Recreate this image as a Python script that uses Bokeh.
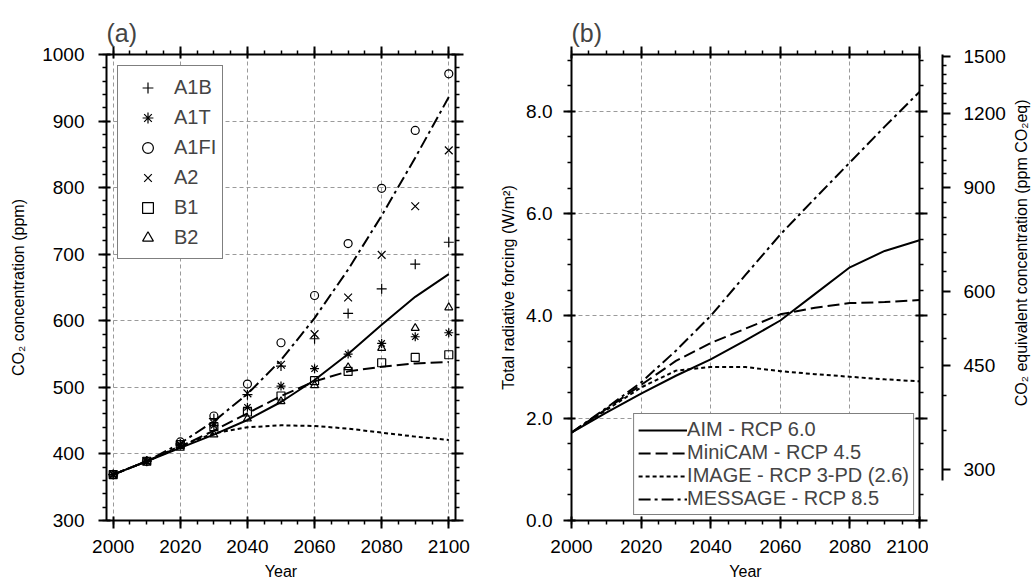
import math
from bokeh.plotting import figure
from bokeh.layouts import row
from bokeh.core.properties import value
from bokeh.models import (Range1d, LinearAxis, SingleIntervalTicker, FixedTicker,
                          Legend, LegendItem, CustomJSTickFormatter,
                          PrintfTickFormatter, BasicTickFormatter)
from bokeh.embed import file_html
from bokeh.resources import INLINE

FONT = "Liberation Sans"

years = [2000, 2010, 2020, 2030, 2040, 2050, 2060, 2070, 2080, 2090, 2100]

# ---- panel (a): CO2 concentration (ppm) ----
rcp60_co2 = [369, 389, 409, 429, 451, 478, 511, 550, 594, 636, 670]
rcp45_co2 = [369, 389, 411, 435, 461, 487, 509, 524, 531, 536, 538]
rcp26_co2 = [369, 389, 412, 431, 440, 443, 442, 438, 432, 426, 421]
rcp85_co2 = [369, 389, 416, 449, 490, 541, 604, 677, 758, 845, 936]

sres_names = ["A1B", "A1T", "A1FI", "A2", "B1", "B2"]
sres_markers = ["cross", "asterisk", "circle", "x", "square", "triangle"]
sres_sizes = [10, 9, 8, 11, 8, 8]
a1b = [369, 389, 415, 453, 489, 532, 573, 611, 648, 685, 718]
a1t = [369, 389, 413, 443, 470, 502, 528, 550, 566, 576, 582]
a1fi = [369, 389, 418, 457, 505, 567, 638, 716, 799, 886, 971]
a2 = [369, 389, 414, 446, 491, 534, 580, 635, 699, 772, 856]
b1 = [369, 389, 414, 441, 463, 487, 510, 524, 537, 545, 549]
b2 = [369, 389, 409, 429, 453, 479, 503, 530, 559, 589, 620]
sres_values = [a1b, a1t, a1fi, a2, b1, b2]

# ---- panel (b): total radiative forcing (W/m2) ----
rcp_names = ["AIM - RCP 6.0", "MiniCAM - RCP 4.5", "IMAGE - RCP 3-PD (2.6)", "MESSAGE - RCP 8.5"]
aim_rf = [1.72, 2.11, 2.48, 2.83, 3.15, 3.52, 3.91, 4.43, 4.95, 5.27, 5.48]
minicam_rf = [1.72, 2.18, 2.65, 3.12, 3.47, 3.75, 4.03, 4.16, 4.25, 4.27, 4.31]
image_rf = [1.72, 2.16, 2.60, 2.93, 3.00, 3.00, 2.92, 2.86, 2.81, 2.76, 2.72]
message_rf = [1.72, 2.20, 2.70, 3.32, 4.00, 4.80, 5.59, 6.30, 7.00, 7.70, 8.38]

co2eq_ticks = [300, 450, 600, 900, 1200, 1500]
co2eq_minor = [350, 400, 500, 550, 650, 700, 750, 800, 850, 950, 1000, 1050,
               1100, 1150, 1250, 1300, 1350, 1400, 1450]
co2eq_title = "CO\u2082 equivalent concentration (ppm CO\u2082eq)"

DASHES = ["solid", "12 5", "4 3", "12 4 3 4"]

H = 586
TOP = 54
BOTTOM = 66


def style_axis(ax, label_px=19, standoff=10, show_labels=True):
    ax.axis_line_width = 2
    ax.axis_line_color = "black"
    ax.major_tick_line_width = 2
    ax.minor_tick_line_width = 1.5
    ax.major_tick_in = 4
    ax.major_tick_out = 8
    ax.minor_tick_in = 0
    ax.minor_tick_out = 4
    ax.major_label_text_font = FONT
    ax.major_label_text_font_size = f"{label_px}px"
    ax.major_label_text_color = "black"
    ax.major_label_standoff = standoff
    ax.axis_label_text_font = FONT
    ax.axis_label_text_font_size = "16px"
    ax.axis_label_text_font_style = "normal"
    ax.axis_label_text_color = "black"
    if not show_labels:
        ax.formatter = CustomJSTickFormatter(code="return ''")
        ax.major_label_standoff = 0


def base_fig(width, x0, x1, y0, y1, left, right, title):
    p = figure(width=width, height=H, x_range=Range1d(x0, x1), y_range=Range1d(y0, y1),
               output_backend="svg", toolbar_location=None,
               min_border_left=left, min_border_right=right,
               min_border_top=TOP, min_border_bottom=BOTTOM)
    p.outline_line_color = None
    p.background_fill_color = "white"
    p.border_fill_color = "white"
    p.title.text = title
    p.title.text_font = FONT
    p.title.text_font_size = "25px"
    p.title.text_font_style = "normal"
    p.title.align = "left"
    p.title.offset = 0
    p.title.standoff = 0
    for g in (p.xgrid, p.ygrid):
        g.grid_line_color = "#9a9a9a"
        g.grid_line_dash = "4 3"
        g.grid_line_width = 1
    return p


# ================= panel (a) =================
pa = base_fig(495, 1998, 2102, 300, 1000, 106, 40, "(a)")
xt = SingleIntervalTicker(interval=20, num_minor_ticks=4)
yt = SingleIntervalTicker(interval=100, num_minor_ticks=5)
pa.xaxis.ticker = xt
pa.yaxis.ticker = yt
style_axis(pa.xaxis[0], standoff=11)
style_axis(pa.yaxis[0], standoff=14)
pa.xaxis.axis_label = "Year"
pa.xaxis.axis_label_standoff = 7
pa.yaxis.axis_label = "CO\u2082 concentration (ppm)"
pa.yaxis.axis_label_standoff = 12
top_a = LinearAxis(ticker=xt)
style_axis(top_a, show_labels=False)
pa.add_layout(top_a, "above")
right_a = LinearAxis(ticker=yt)
style_axis(right_a, show_labels=False)
pa.add_layout(right_a, "right")

for vals, dash in zip([rcp60_co2, rcp45_co2, rcp26_co2, rcp85_co2], DASHES):
    pa.line(years, vals, line_color="black", line_width=2, line_dash=dash)

items_a = []
for name, mk, sz, vals in zip(sres_names, sres_markers, sres_sizes, sres_values):
    r = pa.scatter(years, vals, marker=mk, size=sz, fill_color=None,
                   line_color="black", line_width=1.2)
    items_a.append(LegendItem(label=name, renderers=[r]))
leg_a = Legend(items=items_a, location="top_left", margin=11, padding=6, spacing=0,
               label_height=30, glyph_height=27, glyph_width=47, label_standoff=3,
               label_text_font=FONT, label_text_font_size="20px",
               border_line_color="black", border_line_width=1.2,
               background_fill_color="white", background_fill_alpha=1.0)
pa.add_layout(leg_a)

# ================= panel (b) =================
pb = base_fig(433, 2000, 2100, 0, 9.11, 76, 9, "(b)")
xtb = SingleIntervalTicker(interval=20, num_minor_ticks=4)
ytb = SingleIntervalTicker(interval=2, num_minor_ticks=4)
pb.xaxis.ticker = xtb
pb.yaxis.ticker = ytb
style_axis(pb.xaxis[0], standoff=11)
style_axis(pb.yaxis[0], standoff=11)
pb.yaxis.formatter = PrintfTickFormatter(format="%.1f")
pb.xaxis.axis_label = "Year"
pb.xaxis.axis_label_standoff = 7
pb.yaxis.axis_label = "Total radiative forcing (W/m\u00b2)"
pb.yaxis.axis_label_standoff = 6
top_b = LinearAxis(ticker=xtb)
style_axis(top_b, show_labels=False)
pb.add_layout(top_b, "above")
right_b = LinearAxis(ticker=ytb)
style_axis(right_b, show_labels=False)
pb.add_layout(right_b, "right")

items_b = []
for name, vals, dash in zip(rcp_names, [aim_rf, minicam_rf, image_rf, message_rf], DASHES):
    r = pb.line(years, vals, line_color="black", line_width=2, line_dash=dash)
    items_b.append(LegendItem(label=name, renderers=[r]))
leg_b = Legend(items=items_b, location="bottom_right", margin=5, padding=4, spacing=0,
               label_height=22, glyph_height=22, glyph_width=49, label_standoff=0,
               label_text_font=FONT, label_text_font_size="20px",
               border_line_color="black", border_line_width=1.2,
               background_fill_color="white", background_fill_alpha=1.0)
pb.add_layout(leg_b)

# ===== separate CO2-equivalent axis (log scale, offset from panel b) =====
pc = figure(width=82, height=H, x_range=Range1d(0, 14), y_range=Range1d(246, 1512),
            y_axis_type="log", x_axis_location=None, y_axis_location="right",
            output_backend="svg", toolbar_location=None,
            min_border_left=0, min_border_right=68,
            min_border_top=TOP, min_border_bottom=BOTTOM)
pc.outline_line_color = None
pc.grid.visible = False
pc.background_fill_color = "white"
pc.border_fill_color = "white"
ax = pc.yaxis[0]
ax.ticker = FixedTicker(ticks=co2eq_ticks, minor_ticks=co2eq_minor)
ax.formatter = BasicTickFormatter()
style_axis(ax, standoff=13)
ax.major_tick_in = 0
ax.bounds = (287, 1512)

# ===== strip holding the rotated title of the CO2-equivalent axis =====
pd = figure(width=23, height=H, x_range=Range1d(0, 23), y_range=Range1d(246, 1512),
            y_axis_type="log", x_axis_location=None, y_axis_location=None,
            output_backend="svg", toolbar_location=None,
            min_border_left=0, min_border_right=0,
            min_border_top=TOP, min_border_bottom=BOTTOM)
pd.outline_line_color = None
pd.grid.visible = False
pd.background_fill_color = "white"
pd.border_fill_color = "white"
pd.text(x=[11], y=[698], text=[co2eq_title], angle=math.pi / 2,
        text_align="center", text_baseline="middle",
        text_font=value(FONT), text_font_size="16px", text_color="black")

layout = row(pa, pb, pc, pd)
open("out.html", "w").write(file_html(layout, INLINE))
